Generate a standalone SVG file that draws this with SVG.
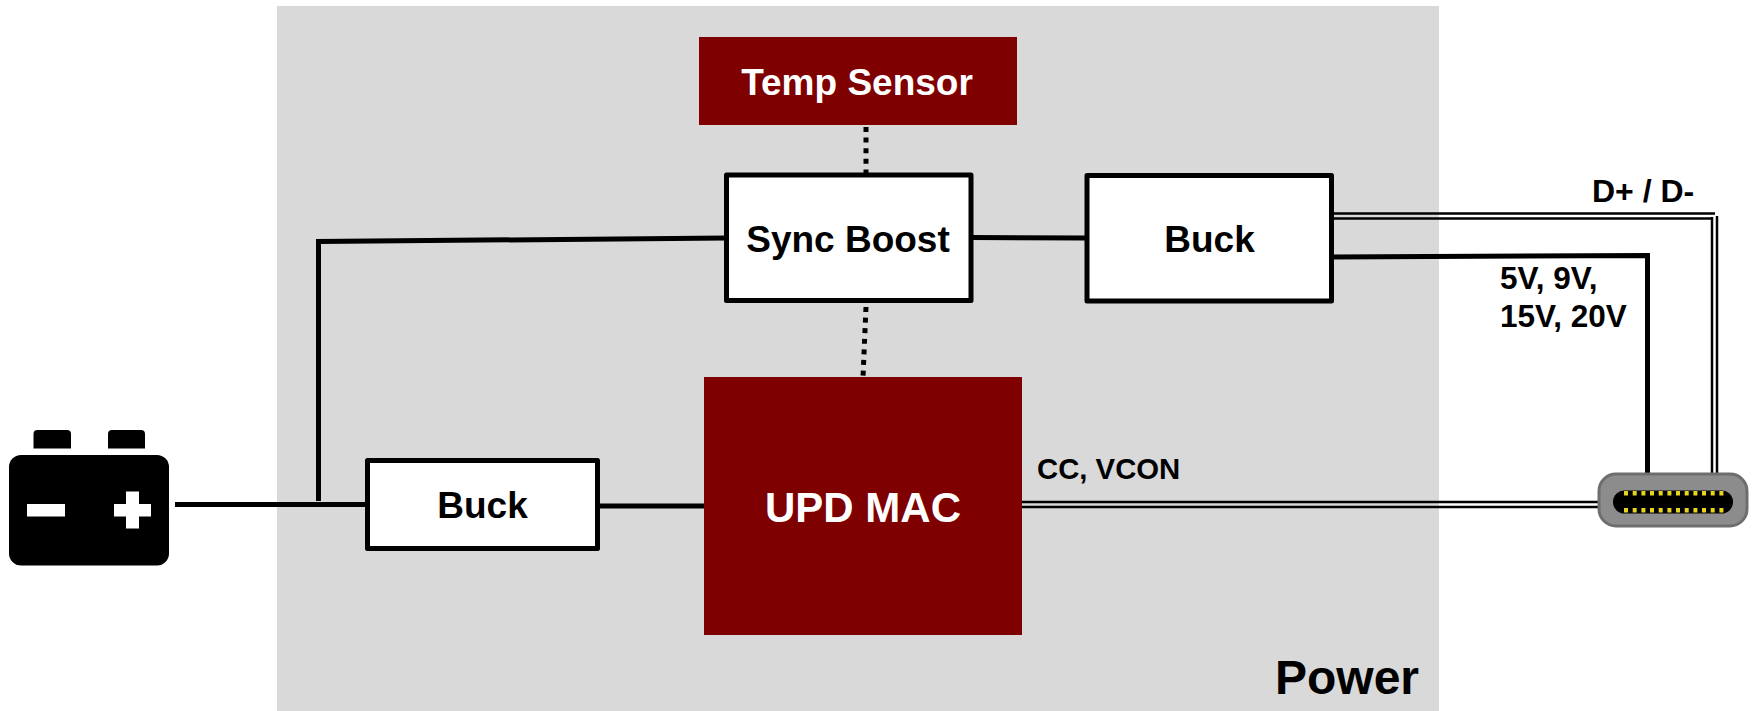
<svg xmlns="http://www.w3.org/2000/svg" width="1754" height="711" viewBox="0 0 1754 711">
<style>
text{font-family:"Liberation Sans",Arial,sans-serif;font-weight:700;fill:#000}
.box{fill:#fff;stroke:#000;stroke-width:5;stroke-linejoin:round}
.mac{fill:#7f0000}
.w{fill:none;stroke:#000;stroke-width:5}
.d{fill:none;stroke:#000;stroke-width:2.500}
.dot{fill:none;stroke:#000;stroke-width:5;stroke-dasharray:5 5.600}
</style>
<rect id="power-bg" x="277" y="6" width="1162" height="705" fill="#d9d9d9"/>
<text x="1419" y="694" font-size="48" text-anchor="end">Power</text>
<g id="connectors">
<path class="w" d="M175 504.500H368"/>
<path class="w" d="M318.500 501V241.500L727 238"/>
<path class="w" d="M971 237.500L1087 238"/>
<path class="w" d="M596 506H706"/>
<path class="w" d="M1332 257L1647.500 255.500V476"/>
<path class="d" d="M1334 213.500H1715"/>
<path class="d" d="M1334 218.500H1712"/>
<path class="d" d="M1712 217V476"/>
<path class="d" d="M1717 216V476"/>
<path class="d" d="M1022 502H1600"/>
<path class="d" d="M1022 507H1600"/>
<path class="dot" d="M866 127V173"/>
<path class="dot" d="M866 307L863 377"/>
</g>
<g id="temp-sensor"><rect class="mac" x="699" y="37" width="318" height="88"/><text x="857" y="95" font-size="37" text-anchor="middle" style="fill:#fff">Temp Sensor</text></g>
<g id="sync-boost"><rect class="box" x="726.500" y="175" width="244.500" height="125.500"/><text x="848" y="252" font-size="37" text-anchor="middle">Sync Boost</text></g>
<g id="buck-top"><rect class="box" x="1087" y="175.500" width="244.500" height="125.500"/><text x="1209.500" y="252" font-size="37" text-anchor="middle">Buck</text></g>
<g id="buck-bottom"><rect class="box" x="367.500" y="460.500" width="230" height="88"/><text x="482.500" y="518" font-size="37" text-anchor="middle">Buck</text></g>
<g id="upd-mac"><rect class="mac" x="704" y="377" width="318" height="258"/><text x="863" y="522" font-size="42" text-anchor="middle" style="fill:#fff">UPD MAC</text></g>
<g id="labels">
<text x="1592" y="202" font-size="32">D+ / D-</text>
<text x="1500" y="289" font-size="31.500">5V, 9V,</text>
<text x="1500" y="326.500" font-size="31.500">15V, 20V</text>
<text x="1037" y="479" font-size="29.300">CC, VCON</text>
</g>
<g id="battery">
<rect x="9" y="455" width="160" height="110.500" rx="12" fill="#000"/>
<path d="M33.500 448.500V434a4 4 0 0 1 4-4H67a4 4 0 0 1 4 4V448.500ZM108 448.500V434a4 4 0 0 1 4-4H141a4 4 0 0 1 4 4V448.500Z" fill="#000"/>
<rect x="27" y="504" width="38" height="12.500" fill="#fff"/>
<path d="M126 491.500H139V504H151V516.500H139V528.500H126V516.500H114V504H126Z" fill="#fff"/>
</g>
<g id="usb-c">
<rect x="1599" y="474" width="148" height="52" rx="17" fill="#8c8c8c" stroke="#6e6e6e" stroke-width="3"/>
<rect x="1613" y="490.500" width="120" height="23" rx="11.500" fill="#000"/>
<g fill="#e6d51a">
<path d="M1624 491h4v4.500h-4zM1632.700 491h4v4.500h-4zM1641.400 491h4v4.500h-4zM1650 491h4v4.500h-4zM1658.700 491h4v4.500h-4zM1667.400 491h4v4.500h-4zM1676 491h4v4.500h-4zM1684.700 491h4v4.500h-4zM1693.400 491h4v4.500h-4zM1702 491h4v4.500h-4zM1710.700 491h4v4.500h-4zM1719.400 491h4v4.500h-4z"/>
<path d="M1624 508h4v4.500h-4zM1632.700 508h4v4.500h-4zM1641.400 508h4v4.500h-4zM1650 508h4v4.500h-4zM1658.700 508h4v4.500h-4zM1667.400 508h4v4.500h-4zM1676 508h4v4.500h-4zM1684.700 508h4v4.500h-4zM1693.400 508h4v4.500h-4zM1702 508h4v4.500h-4zM1710.700 508h4v4.500h-4zM1719.400 508h4v4.500h-4z"/>
</g>
</g>
</svg>
